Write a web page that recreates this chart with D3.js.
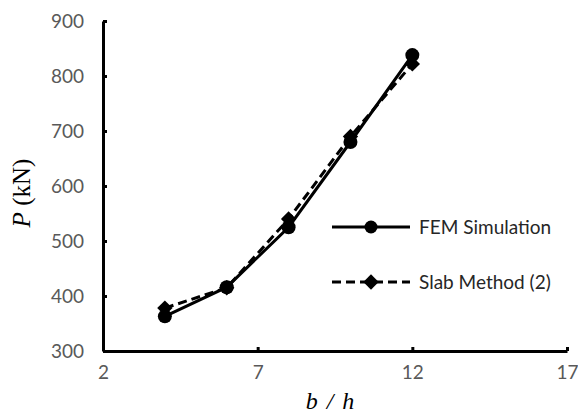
<!DOCTYPE html>
<html><head><meta charset="utf-8">
<script src="https://cdn.jsdelivr.net/npm/d3@7"></script>
<style>body{margin:0;background:#fff}</style>
</head><body>
<script>
const xValues = [4, 6, 8, 10, 12];
const femValues = [363, 416, 525, 680, 838];
const slabValues = [378, 415, 540, 690, 822];
const xTicks = [2, 7, 12, 17];
const yTicks = [300, 400, 500, 600, 700, 800, 900];
const seriesNames = ["FEM Simulation", "Slab Method (2)"];

const W = 578, H = 416;
const svg = d3.select("body").append("svg").attr("width", W).attr("height", H);
const x = d3.scaleLinear().domain([2, 17]).range([103, 567]);
const y = d3.scaleLinear().domain([300, 900]).range([351, 21]);

const tickFont = "'Lato', 'Open Sans', sans-serif";
const yAxis = svg.append("g").attr("transform", "translate(103,0)")
  .call(d3.axisLeft(y).tickValues(yTicks).tickSize(-4).tickPadding(19).tickSizeOuter(0));
const xAxis = svg.append("g").attr("transform", "translate(0,351)")
  .call(d3.axisBottom(x).tickValues(xTicks).tickSize(-4).tickPadding(15).tickSizeOuter(0).tickFormat(d3.format("d")));
[yAxis, xAxis].forEach(a => {
  a.select(".domain").attr("stroke", "#000").attr("stroke-width", 3);
  a.selectAll(".tick line").attr("stroke", "#000").attr("stroke-width", 3);
  a.selectAll(".tick text").attr("fill", "#595959").style("font-family", tickFont).style("font-size", "19px");
});

// axis titles
svg.append("text").attr("transform", "translate(30,193) rotate(-90)").attr("text-anchor", "middle")
  .style("font-family", "'Liberation Serif', serif").style("font-size", "25px")
  .html("<tspan font-style='italic'>P</tspan> (kN)");
svg.append("text").attr("x", 330).attr("y", 409).attr("text-anchor", "middle")
  .style("font-family", "'Liberation Serif', serif").style("font-size", "24px").style("font-style", "italic")
  .style("word-spacing", "3px")
  .text("b / h");

const line = d3.line().x(d => x(d[0])).y(d => y(d[1]));
const fem = xValues.map((v, i) => [v, femValues[i]]);
const slab = xValues.map((v, i) => [v, slabValues[i]]);

svg.append("path").datum(slab).attr("d", line).attr("fill", "none").attr("stroke", "#000")
  .attr("stroke-width", 3).attr("stroke-dasharray", "9,5");
svg.append("path").datum(fem).attr("d", line).attr("fill", "none").attr("stroke", "#000").attr("stroke-width", 3);

const diamond = d3.symbol().type(d3.symbolDiamond2).size(150);
svg.selectAll(".dia").data(slab).enter().append("path")
  .attr("transform", d => `translate(${x(d[0])},${y(d[1])})`).attr("d", diamond).attr("fill", "#000");
svg.selectAll(".circ").data(fem).enter().append("circle")
  .attr("cx", d => x(d[0])).attr("cy", d => y(d[1])).attr("r", 7).attr("fill", "#000");

// legend
const lg = svg.append("g");
lg.append("line").attr("x1", 332).attr("x2", 410).attr("y1", 227).attr("y2", 227).attr("stroke", "#000").attr("stroke-width", 3);
lg.append("circle").attr("cx", 371).attr("cy", 227).attr("r", 6.5).attr("fill", "#000");
lg.append("text").attr("x", 419).attr("y", 234).text(seriesNames[0])
  .attr("fill", "#262626").style("font-family", tickFont).style("font-size", "19px");
lg.append("line").attr("x1", 332).attr("x2", 410).attr("y1", 282).attr("y2", 282).attr("stroke", "#000").attr("stroke-width", 3).attr("stroke-dasharray", "9,5");
lg.append("path").attr("transform", "translate(371,282)").attr("d", diamond).attr("fill", "#000");
lg.append("text").attr("x", 419).attr("y", 289).text(seriesNames[1])
  .attr("fill", "#262626").style("font-family", tickFont).style("font-size", "19px");
</script>
</body></html>
